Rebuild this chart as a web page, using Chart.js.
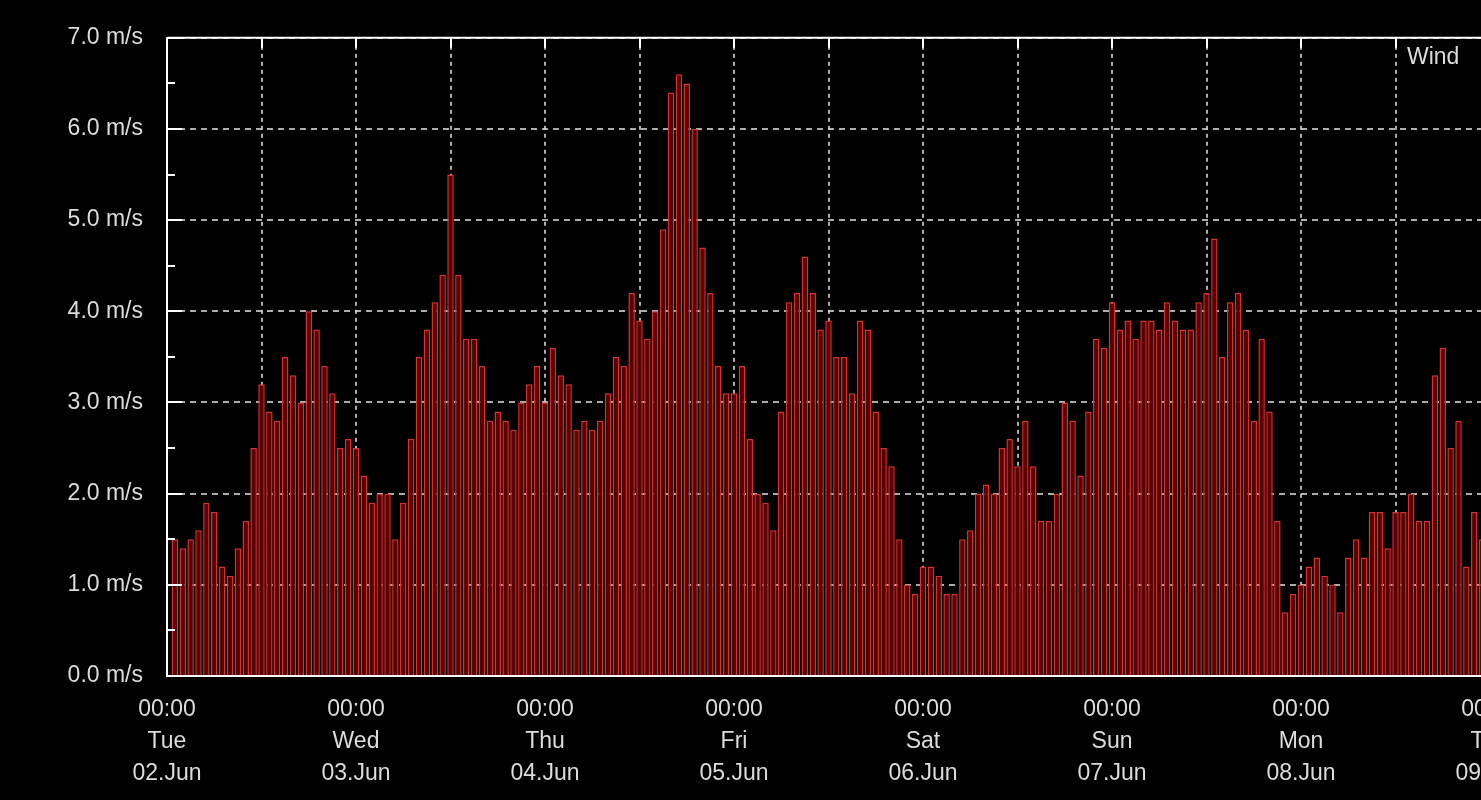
<!DOCTYPE html>
<html>
<head>
<meta charset="utf-8">
<script src="https://cdn.jsdelivr.net/npm/chart.js@4.4.1/dist/chart.umd.min.js"></script>
<style>
  html, body { margin: 0; padding: 0; background: #000; overflow: hidden; }
  #wrap { width: 1563px; height: 800px; }
</style>
</head>
<body>
<div id="wrap"><canvas id="windChart" width="1563" height="800"></canvas></div>
<script>
// hourly wind speed, m/s, first value is 01:00 on Tue 02.Jun
const firstHour = 1;
const tueWind = [1.5, 1.4, 1.5, 1.6, 1.9, 1.8, 1.2, 1.1, 1.4, 1.7, 2.5, 3.2, 2.9, 2.8, 3.5, 3.3, 3.0, 4.0, 3.8, 3.4, 3.1, 2.5, 2.6, 2.5];
const wedWind = [2.2, 1.9, 2.0, 2.0, 1.5, 1.9, 2.6, 3.5, 3.8, 4.1, 4.4, 5.5, 4.4, 3.7, 3.7, 3.4, 2.8, 2.9, 2.8, 2.7, 3.0, 3.2, 3.4, 3.0];
const thuWind = [3.6, 3.3, 3.2, 2.7, 2.8, 2.7, 2.8, 3.1, 3.5, 3.4, 4.2, 3.9, 3.7, 4.0, 4.9, 6.4, 6.6, 6.5, 6.0, 4.7, 4.2, 3.4, 3.1, 3.1];
const friWind = [3.4, 2.6, 2.0, 1.9, 1.6, 2.9, 4.1, 4.2, 4.6, 4.2, 3.8, 3.9, 3.5, 3.5, 3.1, 3.9, 3.8, 2.9, 2.5, 2.3, 1.5, 1.0, 0.9, 1.2];
const satWind = [1.2, 1.1, 0.9, 0.9, 1.5, 1.6, 2.0, 2.1, 2.0, 2.5, 2.6, 2.3, 2.8, 2.3, 1.7, 1.7, 2.0, 3.0, 2.8, 2.2, 2.9, 3.7, 3.6, 4.1];
const sunWind = [3.8, 3.9, 3.7, 3.9, 3.9, 3.8, 4.1, 3.9, 3.8, 3.8, 4.1, 4.2, 4.8, 3.5, 4.1, 4.2, 3.8, 2.8, 3.7, 2.9, 1.7, 0.7, 0.9, 1.0];
const monWind = [1.2, 1.3, 1.1, 1.0, 0.7, 1.3, 1.5, 1.3, 1.8, 1.8, 1.4, 1.8, 1.8, 2.0, 1.7, 1.7, 3.3, 3.6, 2.5, 2.8, 1.2, 1.8, 1.5];

const dayTimes = ['00:00', '00:00', '00:00', '00:00', '00:00', '00:00', '00:00', '00:00'];
const dayNames = ['Tue', 'Wed', 'Thu', 'Fri', 'Sat', 'Sun', 'Mon', 'Tue'];
const dayDates = ['02.Jun', '03.Jun', '04.Jun', '05.Jun', '06.Jun', '07.Jun', '08.Jun', '09.Jun'];

const windSpeed = [].concat(tueWind, wedWind, thuWind, friWind, satWind, sunWind, monWind);
const points = windSpeed.map((v, i) => ({ x: firstHour + i, y: v }));

const textColor = '#dcdcdc';
const fontFamily = '"Liberation Sans", Arial, sans-serif';
const gridColor = 'rgba(215,215,215,0.8)';

// top frame line, inner tick marks and the "Wind" key
const framePlugin = {
    id: 'frame',
    afterDraw(chart) {
        const { ctx, chartArea: a, scales: { x, y } } = chart;
        ctx.save();
        ctx.strokeStyle = '#ffffff';
        ctx.lineWidth = 2;
        ctx.beginPath();
        ctx.moveTo(a.left, a.top);
        ctx.lineTo(a.right, a.top);
        ctx.stroke();

        for (let v = 0; v <= 7; v += 0.5) {
            const py = Math.round(y.getPixelForValue(v));
            const len = v % 1 === 0 ? 15 : 8;
            ctx.beginPath();
            ctx.moveTo(a.left, py);
            ctx.lineTo(a.left + len, py);
            ctx.stroke();
        }
        x.ticks.forEach(t => {
            if (t.value % 12 !== 0) return;
            const px = Math.round(x.getPixelForValue(t.value));
            ctx.beginPath();
            ctx.moveTo(px, a.top);
            ctx.lineTo(px, a.top + 10);
            ctx.stroke();
        });

        ctx.font = '23px ' + fontFamily;
        ctx.fillStyle = textColor;
        ctx.textBaseline = 'middle';
        ctx.textAlign = 'left';
        ctx.fillText(chart.data.datasets[0].label, 1407, 58);
        ctx.restore();
    }
};

new Chart(document.getElementById('windChart'), {
    type: 'bar',
    data: {
        datasets: [{
            label: 'Wind',
            data: points,
            backgroundColor: 'rgb(95,0,0)',
            borderColor: 'rgb(215,50,50)',
            borderWidth: 1.5,
            barPercentage: 1.0,
            categoryPercentage: 0.82
        }]
    },
    options: {
        responsive: false,
        animation: false,
        devicePixelRatio: 1,
        layout: { padding: { top: 32, right: 10, left: 0, bottom: 0 } },
        plugins: {
            legend: { display: false },
            tooltip: { enabled: false }
        },
        scales: {
            x: {
                type: 'linear',
                min: 0,
                max: 176,
                offset: false,
                z: 1,
                afterFit(scale) { scale.height = 124; },
                grid: { color: gridColor, lineWidth: 2, drawTicks: false, offset: false },
                border: { color: '#ffffff', width: 2, dash: [4, 4] },
                ticks: {
                    stepSize: 12,
                    includeBounds: false,
                    autoSkip: false,
                    maxRotation: 0,
                    padding: 17,
                    color: textColor,
                    font: { family: fontFamily, size: 23, lineHeight: 1.41 },
                    callback(value) {
                        if (value % 24 !== 0) return '';
                        const d = value / 24;
                        return [dayTimes[d], dayNames[d], dayDates[d]];
                    }
                }
            },
            y: {
                min: 0,
                max: 7,
                z: 1,
                afterFit(scale) { scale.width = 167; },
                grid: { color: gridColor, lineWidth: 2, drawTicks: false },
                border: { color: '#ffffff', width: 2, dash: [6, 5] },
                ticks: {
                    stepSize: 1,
                    padding: 24,
                    color: textColor,
                    font: { family: fontFamily, size: 23 },
                    callback(value) { return value.toFixed(1) + ' m/s'; }
                }
            }
        }
    },
    plugins: [framePlugin]
});
</script>
</body>
</html>
